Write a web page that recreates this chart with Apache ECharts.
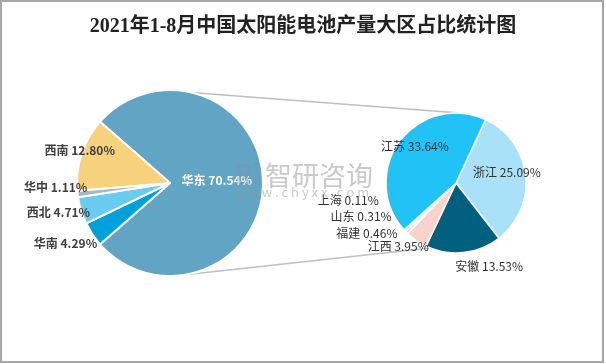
<!DOCTYPE html>
<html><head><meta charset="utf-8">
<script src="https://cdn.jsdelivr.net/npm/echarts@6/dist/echarts.min.js"></script>
<style>html,body{margin:0;padding:0;background:#fff}#c{width:606px;height:364px}</style>
</head><body><div id="c"></div>
<script>
// ---- data ----
const chartTitle = '2021年1-8月中国太阳能电池产量大区占比统计图';
const regionNames = ['华东', '华南', '西北', '华中', '西南'];
const regionPct = [70.54, 4.29, 4.71, 1.11, 12.80];
const provinceNames = ['浙江', '安徽', '江西', '福建', '山东', '上海', '江苏'];
const provinceValues = [25.09, 13.53, 3.95, 0.46, 0.31, 0.11, 33.64];

// ---- styles / layout ----
const regionColors = ['#62A4C3', '#00A0DA', '#6ACBF1', '#A9B7C2', '#F6D27E'];
const provinceColors = ['#A9E1F9', '#02607F', '#F8D3CB', '#BDD7E4', '#D9D9D9', '#9DC3E6', '#21C3F7'];
const L = { cx: 170, cy: 183, r: 93 };
const R = { cx: 456, cy: 183, r: 70, start: 65 };
const leftPlace = { '华东': [0.505, 3.7], '华南': [1.30, -3.3], '西北': [1.24, -2.7], '华中': [1.23, -4.4], '西南': [1.03, -1.4] };
const rightPlace = { '浙江': [0.745, 5.8], '安徽': [1.28, 15.5], '江西': [1.23, -7.6], '福建': [1.46, -15.8], '山东': [1.44, -23.7], '上海': [1.56, -32.9], '江苏': [0.79, -5.6] };

// first pie: the 华东 slice is the sum of the second pie
const eastSum = provinceValues.reduce((a, b) => a + b, 0);
const leftValues = regionPct.map((v, i) => i === 0 ? eastSum : v);
const leftTotal = leftValues.reduce((a, b) => a + b, 0);
L.start = eastSum / leftTotal * 360 / 2;

function mids(values, start) {
  const t = values.reduce((a, b) => a + b, 0);
  let a = start;
  return values.map(v => { const s = v / t * 360; const m = a - s / 2; a -= s; return m; });
}
const leftMids = mids(leftValues, L.start);
const rightMids = mids(provinceValues, R.start);
function place(geo, midsArr, names, placeMap) {
  return function (p) {
    const i = p.dataIndex;
    const pl = placeMap[names[i]];
    const a = (midsArr[i] + pl[1]) * Math.PI / 180;
    return { x: geo.cx + pl[0] * geo.r * Math.cos(a), y: geo.cy - pl[0] * geo.r * Math.sin(a), align: 'center', verticalAlign: 'middle' };
  };
}
function pt(geo, deg) {
  const a = deg * Math.PI / 180;
  return [geo.cx + geo.r * Math.cos(a), geo.cy - geo.r * Math.sin(a)];
}
const lt = pt(L, 77), rt = pt(R, 87), lb = pt(L, -82), rb = pt(R, -112);

const font = '"Noto Sans CJK SC", "Noto Sans", sans-serif';
const chart = echarts.init(document.getElementById('c'));
chart.setOption({
  animation: false,
  backgroundColor: '#fff',
  title: {
    text: chartTitle, left: 'center', top: 12,
    textStyle: { fontSize: 20, fontWeight: 'bold', color: '#222', fontFamily: '"Liberation Serif", "Noto Sans CJK SC", serif' }
  },
  graphic: [
    { type: 'rect', shape: { x: 1, y: 1, width: 602, height: 361 }, style: { fill: 'none', stroke: '#A6A6A6', lineWidth: 2 }, silent: true },
    { type: 'line', shape: { x1: lt[0], y1: lt[1], x2: rt[0], y2: rt[1] }, style: { stroke: '#BFBFBF', lineWidth: 1.5 }, z: 0 },
    { type: 'line', shape: { x1: lb[0], y1: lb[1], x2: rb[0], y2: rb[1] }, style: { stroke: '#BFBFBF', lineWidth: 1.5 }, z: 0 },
    { type: 'text', left: 265, top: 162, z: 100, style: { text: '智研咨询', fontSize: 27, fontFamily: font, fill: 'rgba(150,150,150,0.5)' } },
    { type: 'text', left: 235, top: 186, z: 100, style: { text: 'w w w . c h y x x . c o m', fontSize: 13, fontFamily: font, fill: 'rgba(150,150,150,0.5)' } },
    { type: 'text', left: 234, top: 160, z: 100, style: { text: 'Ri', fontSize: 28, fontWeight: 'bold', fontFamily: font, fill: 'rgba(120,150,180,0.35)' } }
  ],
  series: [
    {
      type: 'pie', center: [L.cx, L.cy], radius: L.r, startAngle: L.start, clockwise: true,
      avoidLabelOverlap: false,
      itemStyle: { borderColor: '#fff', borderWidth: 2 },
      label: {
        show: true, position: 'outside', fontFamily: font, fontSize: 12, fontWeight: 'bold', color: '#404040',
        formatter: p => regionNames[p.dataIndex] + ' ' + regionPct[p.dataIndex].toFixed(2) + '%'
      },
      labelLine: { show: false },
      labelLayout: place(L, leftMids, regionNames, leftPlace),
      data: regionNames.map((n, i) => ({
        name: n, value: leftValues[i], itemStyle: { color: regionColors[i] },
        label: i === 0 ? { color: '#fff' } : undefined
      }))
    },
    {
      type: 'pie', center: [R.cx, R.cy], radius: R.r, startAngle: R.start, clockwise: true,
      avoidLabelOverlap: false,
      itemStyle: { borderColor: '#fff', borderWidth: 1.5 },
      label: {
        show: true, position: 'outside', fontFamily: font, fontSize: 12, color: '#333',
        formatter: p => provinceNames[p.dataIndex] + ' ' + provinceValues[p.dataIndex].toFixed(2) + '%'
      },
      labelLine: { show: false },
      labelLayout: place(R, rightMids, provinceNames, rightPlace),
      data: provinceNames.map((n, i) => ({ name: n, value: provinceValues[i], itemStyle: { color: provinceColors[i] } }))
    }
  ]
});
</script></body></html>
